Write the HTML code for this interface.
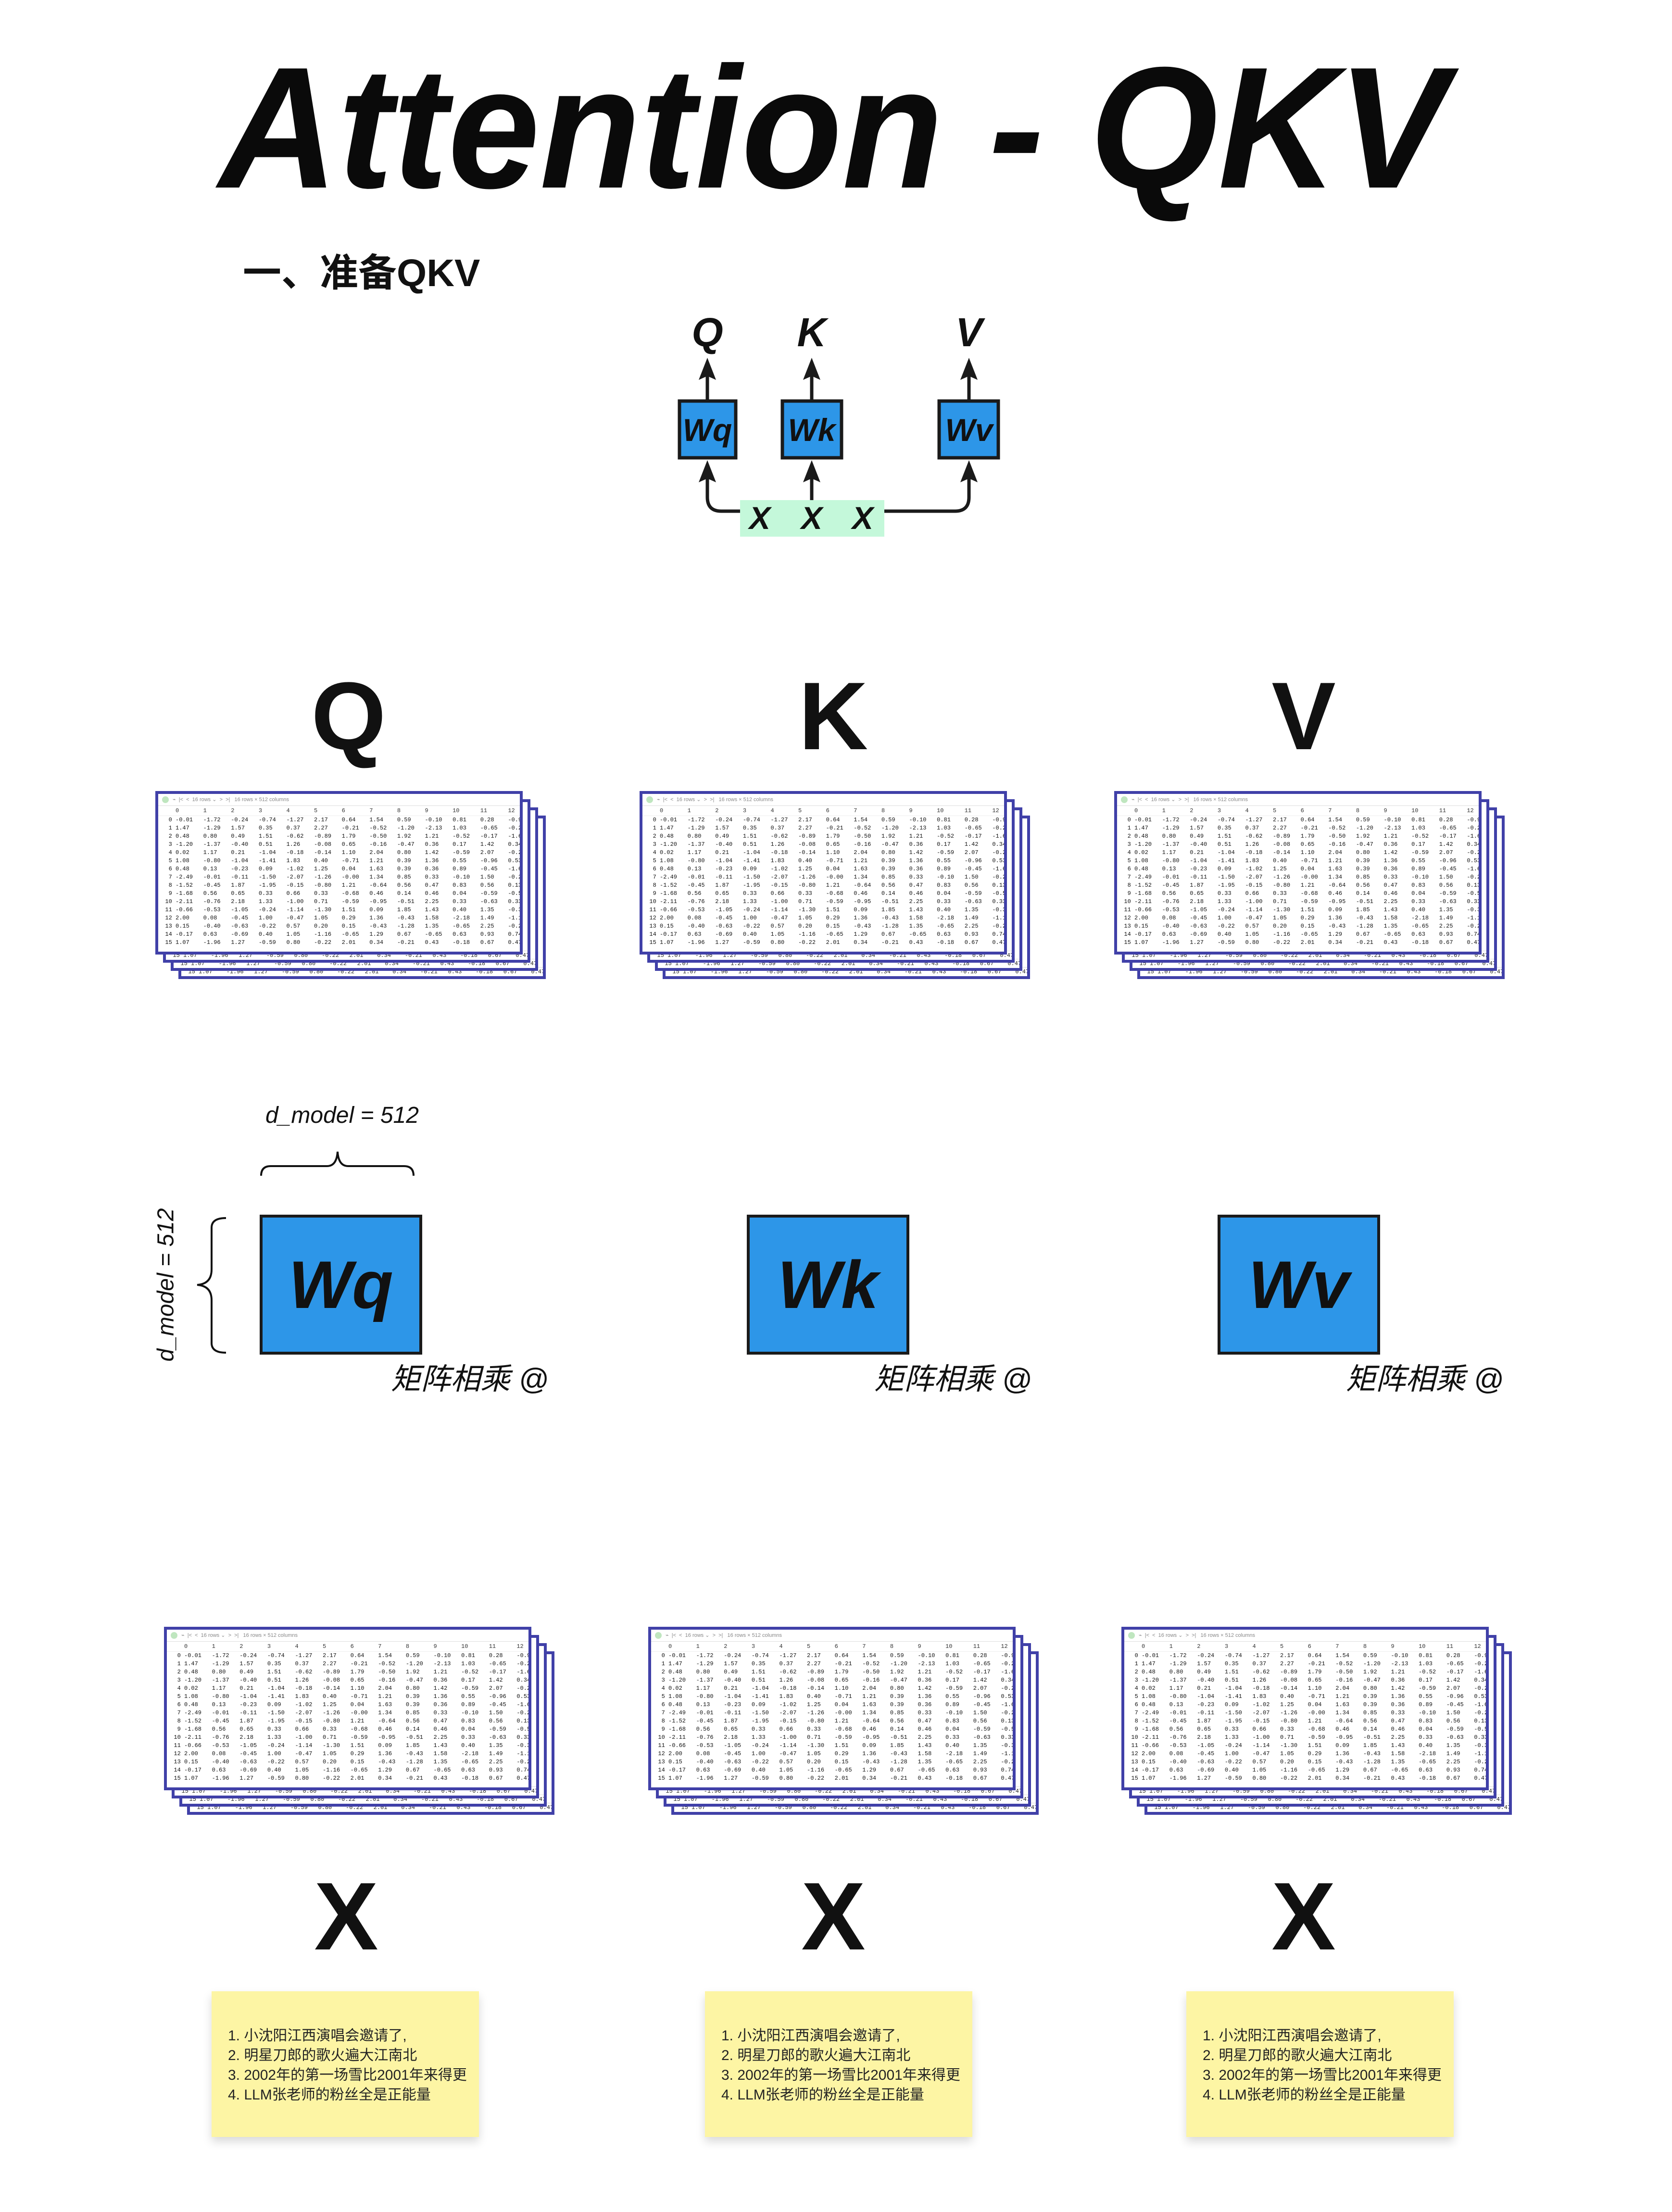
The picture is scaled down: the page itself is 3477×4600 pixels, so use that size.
<!DOCTYPE html>
<html><head><meta charset="utf-8">
<style>
body{margin:0;background:#fff;}
#pg{position:relative;width:3477px;height:4600px;overflow:hidden;background:#fff;font-family:"Liberation Sans","Noto Sans CJK SC",sans-serif;color:#111;}
.a{position:absolute;}
.lbl{position:absolute;font-weight:bold;font-size:200px;line-height:1;transform:translate(-50%,-50%);}
.stk{position:absolute;width:820px;height:400px;}
.ly{position:absolute;width:752px;height:328px;border:6px solid #4040a8;background:#fff;overflow:hidden;}
.ly .last{position:absolute;left:0;right:0;bottom:0;height:18px;font:12px/18px "Liberation Mono",monospace;white-space:pre;color:#222;border-top:1px solid #ddd;}
.tb{height:24px;border-bottom:1px solid #ddd;font:11px/24px "Liberation Sans",sans-serif;color:#888;white-space:pre;padding-left:8px;}
.tb i{display:inline-block;width:14px;height:14px;border-radius:50%;background:#bfe6bf;vertical-align:middle;margin-right:8px;}
.rw{font:12px/17px "Liberation Mono",monospace;white-space:pre;color:#111;height:17px;}
.hd{font:12px/20px "Liberation Mono",monospace;white-space:pre;color:#333;height:20px;border-bottom:1px solid #eee;}
.big{position:absolute;width:326px;height:279px;background:#2d96e8;border:6px solid #1a1a1a;font-weight:bold;font-style:italic;font-size:140px;line-height:279px;text-align:center;color:#111;}
.mm{position:absolute;font-style:italic;font-size:62px;line-height:1;}
.note{position:absolute;width:556px;height:303px;background:#fdf5a4;box-shadow:0 10px 18px rgba(0,0,0,0.15);font-family:"Liberation Sans","Noto Sans CJK SC",sans-serif;font-size:30px;line-height:41px;color:#222;box-sizing:border-box;padding:72px 0 0 34px;white-space:nowrap;}
</style></head><body><div id="pg">

<svg class="a" style="left:0;top:0" width="3477" height="620">
<text x="455" y="390" font-family="Liberation Sans" font-weight="bold" font-style="italic" font-size="360" textLength="2555" lengthAdjust="spacingAndGlyphs" fill="#0a0a0a">Attention - QKV</text>
<text x="505" y="595" font-family="Liberation Sans, Noto Sans CJK SC, sans-serif" font-weight="bold" font-size="80" fill="#111">一、准备QKV</text>
</svg>

<svg class="a" style="left:0;top:620" width="3477" height="520">
<g font-family="Liberation Sans" font-weight="bold" font-style="italic" fill="#111" text-anchor="middle">
<text x="1471" y="100" font-size="84">Q</text>
<text x="1688" y="100" font-size="84">K</text>
<text x="2015" y="100" font-size="84">V</text>
</g>
<g stroke="#1a1a1a" stroke-width="7" fill="none">
<line x1="1471" y1="211" x2="1471" y2="145"/>
<line x1="1688" y1="211" x2="1688" y2="145"/>
<line x1="2015" y1="211" x2="2015" y2="145"/>
<path d="M1539 443 H1500 Q1471 443 1471 414 V360"/>
<line x1="1688" y1="420" x2="1688" y2="360"/>
<path d="M1839 443 H1986 Q2015 443 2015 414 V360"/>
</g>
<g fill="#1a1a1a">
<path d="M1471 124 L1489 170 L1471 162 L1453 170Z"/>
<path d="M1688 124 L1706 170 L1688 162 L1670 170Z"/>
<path d="M2015 124 L2033 170 L2015 162 L1997 170Z"/>
<path d="M1471 337 L1489 383 L1471 375 L1453 383Z"/>
<path d="M1688 337 L1706 383 L1688 375 L1670 383Z"/>
<path d="M2015 337 L2033 383 L2015 375 L1997 383Z"/>
</g>
<g fill="#2d96e8" stroke="#1a1a1a" stroke-width="7">
<rect x="1413" y="214" width="117" height="118"/>
<rect x="1627" y="214" width="123" height="118"/>
<rect x="1953" y="214" width="123" height="118"/>
</g>
<rect x="1539" y="420" width="300" height="76" fill="#c4f8da"/>
<g font-family="Liberation Sans" font-weight="bold" font-style="italic" fill="#111" text-anchor="middle" font-size="66">
<text x="1471" y="297">Wq</text><text x="1688" y="297">Wk</text><text x="2015" y="297">Wv</text>
<text x="1580" y="480">X</text><text x="1688" y="480">X</text><text x="1794" y="480">X</text>
</g>
</svg>

<div class="lbl" style="left:725px;top:1490px">Q</div>
<div class="lbl" style="left:1733px;top:1490px">K</div>
<div class="lbl" style="left:2711px;top:1490px">V</div>

<div class="stk" style="left:323px;top:1645px">
<div class="ly" style="left:48px;top:51px"><div class="last">  15 1.07    -1.96   1.27    -0.59   0.80    -0.22   2.01    0.34    -0.21   0.43    -0.18   0.67    0.47</div></div>
<div class="ly" style="left:32px;top:34px"><div class="last">  15 1.07    -1.96   1.27    -0.59   0.80    -0.22   2.01    0.34    -0.21   0.43    -0.18   0.67    0.47</div></div>
<div class="ly" style="left:16px;top:17px"><div class="last">  15 1.07    -1.96   1.27    -0.59   0.80    -0.22   2.01    0.34    -0.21   0.43    -0.18   0.67    0.47</div></div>
<div class="ly" style="left:0;top:0">
<div class="tb"><i></i>⌁  |&lt;  &lt;  16 rows ⌄  &gt;  &gt;|   16 rows × 512 columns</div>
<div class="hd">     0       1       2       3       4       5       6       7       8       9       10      11      12</div>
<div class="rw">   0 -0.01   -1.72   -0.24   -0.74   -1.27   2.17    0.64    1.54    0.59    -0.10   0.81    0.28    -0.94</div>
<div class="rw">   1 1.47    -1.29   1.57    0.35    0.37    2.27    -0.21   -0.52   -1.20   -2.13   1.03    -0.65   -0.20</div>
<div class="rw">   2 0.48    0.80    0.49    1.51    -0.62   -0.89   1.79    -0.50   1.92    1.21    -0.52   -0.17   -1.62</div>
<div class="rw">   3 -1.20   -1.37   -0.40   0.51    1.26    -0.08   0.65    -0.16   -0.47   0.36    0.17    1.42    0.34</div>
<div class="rw">   4 0.02    1.17    0.21    -1.04   -0.18   -0.14   1.10    2.04    0.80    1.42    -0.59   2.07    -0.20</div>
<div class="rw">   5 1.08    -0.80   -1.04   -1.41   1.83    0.40    -0.71   1.21    0.39    1.36    0.55    -0.96   0.53</div>
<div class="rw">   6 0.48    0.13    -0.23   0.09    -1.02   1.25    0.04    1.63    0.39    0.36    0.89    -0.45   -1.65</div>
<div class="rw">   7 -2.49   -0.01   -0.11   -1.50   -2.07   -1.26   -0.00   1.34    0.85    0.33    -0.10   1.50    -0.29</div>
<div class="rw">   8 -1.52   -0.45   1.87    -1.95   -0.15   -0.80   1.21    -0.64   0.56    0.47    0.83    0.56    0.13</div>
<div class="rw">   9 -1.68   0.56    0.65    0.33    0.66    0.33    -0.68   0.46    0.14    0.46    0.04    -0.59   -0.56</div>
<div class="rw">  10 -2.11   -0.76   2.18    1.33    -1.00   0.71    -0.59   -0.95   -0.51   2.25    0.33    -0.63   0.33</div>
<div class="rw">  11 -0.66   -0.53   -1.05   -0.24   -1.14   -1.30   1.51    0.09    1.85    1.43    0.40    1.35    -0.36</div>
<div class="rw">  12 2.00    0.08    -0.45   1.00    -0.47   1.05    0.29    1.36    -0.43   1.58    -2.18   1.49    -1.11</div>
<div class="rw">  13 0.15    -0.40   -0.63   -0.22   0.57    0.20    0.15    -0.43   -1.28   1.35    -0.65   2.25    -0.24</div>
<div class="rw">  14 -0.17   0.63    -0.69   0.40    1.05    -1.16   -0.65   1.29    0.67    -0.65   0.63    0.93    0.74</div>
<div class="rw">  15 1.07    -1.96   1.27    -0.59   0.80    -0.22   2.01    0.34    -0.21   0.43    -0.18   0.67    0.47</div>
</div></div>

<div class="stk" style="left:1330px;top:1645px">
<div class="ly" style="left:48px;top:51px"><div class="last">  15 1.07    -1.96   1.27    -0.59   0.80    -0.22   2.01    0.34    -0.21   0.43    -0.18   0.67    0.47</div></div>
<div class="ly" style="left:32px;top:34px"><div class="last">  15 1.07    -1.96   1.27    -0.59   0.80    -0.22   2.01    0.34    -0.21   0.43    -0.18   0.67    0.47</div></div>
<div class="ly" style="left:16px;top:17px"><div class="last">  15 1.07    -1.96   1.27    -0.59   0.80    -0.22   2.01    0.34    -0.21   0.43    -0.18   0.67    0.47</div></div>
<div class="ly" style="left:0;top:0">
<div class="tb"><i></i>⌁  |&lt;  &lt;  16 rows ⌄  &gt;  &gt;|   16 rows × 512 columns</div>
<div class="hd">     0       1       2       3       4       5       6       7       8       9       10      11      12</div>
<div class="rw">   0 -0.01   -1.72   -0.24   -0.74   -1.27   2.17    0.64    1.54    0.59    -0.10   0.81    0.28    -0.94</div>
<div class="rw">   1 1.47    -1.29   1.57    0.35    0.37    2.27    -0.21   -0.52   -1.20   -2.13   1.03    -0.65   -0.20</div>
<div class="rw">   2 0.48    0.80    0.49    1.51    -0.62   -0.89   1.79    -0.50   1.92    1.21    -0.52   -0.17   -1.62</div>
<div class="rw">   3 -1.20   -1.37   -0.40   0.51    1.26    -0.08   0.65    -0.16   -0.47   0.36    0.17    1.42    0.34</div>
<div class="rw">   4 0.02    1.17    0.21    -1.04   -0.18   -0.14   1.10    2.04    0.80    1.42    -0.59   2.07    -0.20</div>
<div class="rw">   5 1.08    -0.80   -1.04   -1.41   1.83    0.40    -0.71   1.21    0.39    1.36    0.55    -0.96   0.53</div>
<div class="rw">   6 0.48    0.13    -0.23   0.09    -1.02   1.25    0.04    1.63    0.39    0.36    0.89    -0.45   -1.65</div>
<div class="rw">   7 -2.49   -0.01   -0.11   -1.50   -2.07   -1.26   -0.00   1.34    0.85    0.33    -0.10   1.50    -0.29</div>
<div class="rw">   8 -1.52   -0.45   1.87    -1.95   -0.15   -0.80   1.21    -0.64   0.56    0.47    0.83    0.56    0.13</div>
<div class="rw">   9 -1.68   0.56    0.65    0.33    0.66    0.33    -0.68   0.46    0.14    0.46    0.04    -0.59   -0.56</div>
<div class="rw">  10 -2.11   -0.76   2.18    1.33    -1.00   0.71    -0.59   -0.95   -0.51   2.25    0.33    -0.63   0.33</div>
<div class="rw">  11 -0.66   -0.53   -1.05   -0.24   -1.14   -1.30   1.51    0.09    1.85    1.43    0.40    1.35    -0.36</div>
<div class="rw">  12 2.00    0.08    -0.45   1.00    -0.47   1.05    0.29    1.36    -0.43   1.58    -2.18   1.49    -1.11</div>
<div class="rw">  13 0.15    -0.40   -0.63   -0.22   0.57    0.20    0.15    -0.43   -1.28   1.35    -0.65   2.25    -0.24</div>
<div class="rw">  14 -0.17   0.63    -0.69   0.40    1.05    -1.16   -0.65   1.29    0.67    -0.65   0.63    0.93    0.74</div>
<div class="rw">  15 1.07    -1.96   1.27    -0.59   0.80    -0.22   2.01    0.34    -0.21   0.43    -0.18   0.67    0.47</div>
</div></div>

<div class="stk" style="left:2317px;top:1645px">
<div class="ly" style="left:48px;top:51px"><div class="last">  15 1.07    -1.96   1.27    -0.59   0.80    -0.22   2.01    0.34    -0.21   0.43    -0.18   0.67    0.47</div></div>
<div class="ly" style="left:32px;top:34px"><div class="last">  15 1.07    -1.96   1.27    -0.59   0.80    -0.22   2.01    0.34    -0.21   0.43    -0.18   0.67    0.47</div></div>
<div class="ly" style="left:16px;top:17px"><div class="last">  15 1.07    -1.96   1.27    -0.59   0.80    -0.22   2.01    0.34    -0.21   0.43    -0.18   0.67    0.47</div></div>
<div class="ly" style="left:0;top:0">
<div class="tb"><i></i>⌁  |&lt;  &lt;  16 rows ⌄  &gt;  &gt;|   16 rows × 512 columns</div>
<div class="hd">     0       1       2       3       4       5       6       7       8       9       10      11      12</div>
<div class="rw">   0 -0.01   -1.72   -0.24   -0.74   -1.27   2.17    0.64    1.54    0.59    -0.10   0.81    0.28    -0.94</div>
<div class="rw">   1 1.47    -1.29   1.57    0.35    0.37    2.27    -0.21   -0.52   -1.20   -2.13   1.03    -0.65   -0.20</div>
<div class="rw">   2 0.48    0.80    0.49    1.51    -0.62   -0.89   1.79    -0.50   1.92    1.21    -0.52   -0.17   -1.62</div>
<div class="rw">   3 -1.20   -1.37   -0.40   0.51    1.26    -0.08   0.65    -0.16   -0.47   0.36    0.17    1.42    0.34</div>
<div class="rw">   4 0.02    1.17    0.21    -1.04   -0.18   -0.14   1.10    2.04    0.80    1.42    -0.59   2.07    -0.20</div>
<div class="rw">   5 1.08    -0.80   -1.04   -1.41   1.83    0.40    -0.71   1.21    0.39    1.36    0.55    -0.96   0.53</div>
<div class="rw">   6 0.48    0.13    -0.23   0.09    -1.02   1.25    0.04    1.63    0.39    0.36    0.89    -0.45   -1.65</div>
<div class="rw">   7 -2.49   -0.01   -0.11   -1.50   -2.07   -1.26   -0.00   1.34    0.85    0.33    -0.10   1.50    -0.29</div>
<div class="rw">   8 -1.52   -0.45   1.87    -1.95   -0.15   -0.80   1.21    -0.64   0.56    0.47    0.83    0.56    0.13</div>
<div class="rw">   9 -1.68   0.56    0.65    0.33    0.66    0.33    -0.68   0.46    0.14    0.46    0.04    -0.59   -0.56</div>
<div class="rw">  10 -2.11   -0.76   2.18    1.33    -1.00   0.71    -0.59   -0.95   -0.51   2.25    0.33    -0.63   0.33</div>
<div class="rw">  11 -0.66   -0.53   -1.05   -0.24   -1.14   -1.30   1.51    0.09    1.85    1.43    0.40    1.35    -0.36</div>
<div class="rw">  12 2.00    0.08    -0.45   1.00    -0.47   1.05    0.29    1.36    -0.43   1.58    -2.18   1.49    -1.11</div>
<div class="rw">  13 0.15    -0.40   -0.63   -0.22   0.57    0.20    0.15    -0.43   -1.28   1.35    -0.65   2.25    -0.24</div>
<div class="rw">  14 -0.17   0.63    -0.69   0.40    1.05    -1.16   -0.65   1.29    0.67    -0.65   0.63    0.93    0.74</div>
<div class="rw">  15 1.07    -1.96   1.27    -0.59   0.80    -0.22   2.01    0.34    -0.21   0.43    -0.18   0.67    0.47</div>
</div></div>

<div class="a" style="left:552px;top:2292px;font-style:italic;font-size:48px;">d_model = 512</div>
<svg class="a" style="left:0;top:2380" width="1000" height="480">
<path d="M543 65 Q543 45 563 45 H680 Q700 45 702 15 Q704 45 724 45 H840 Q860 45 860 65" fill="none" stroke="#111" stroke-width="4"/>
<path d="M470 153 Q440 153 440 173 V260 Q440 290 410 292 Q440 294 440 324 V413 Q440 433 470 433" fill="none" stroke="#111" stroke-width="4"/>
</svg>
<div class="a" style="left:345px;top:2672px;font-style:italic;font-size:48px;white-space:nowrap;transform:translate(-50%,-50%) rotate(-90deg);">d_model = 512</div>

<div class="big" style="left:540px;top:2526px">Wq</div>
<div class="big" style="left:1553px;top:2526px">Wk</div>
<div class="big" style="left:2532px;top:2526px">Wv</div>
<div class="mm" style="left:813px;top:2838px">矩阵相乘 @</div>
<div class="mm" style="left:1818px;top:2838px">矩阵相乘 @</div>
<div class="mm" style="left:2799px;top:2838px">矩阵相乘 @</div>

<div class="stk" style="left:341px;top:3383px">
<div class="ly" style="left:48px;top:51px"><div class="last">  15 1.07    -1.96   1.27    -0.59   0.80    -0.22   2.01    0.34    -0.21   0.43    -0.18   0.67    0.47</div></div>
<div class="ly" style="left:32px;top:34px"><div class="last">  15 1.07    -1.96   1.27    -0.59   0.80    -0.22   2.01    0.34    -0.21   0.43    -0.18   0.67    0.47</div></div>
<div class="ly" style="left:16px;top:17px"><div class="last">  15 1.07    -1.96   1.27    -0.59   0.80    -0.22   2.01    0.34    -0.21   0.43    -0.18   0.67    0.47</div></div>
<div class="ly" style="left:0;top:0">
<div class="tb"><i></i>⌁  |&lt;  &lt;  16 rows ⌄  &gt;  &gt;|   16 rows × 512 columns</div>
<div class="hd">     0       1       2       3       4       5       6       7       8       9       10      11      12</div>
<div class="rw">   0 -0.01   -1.72   -0.24   -0.74   -1.27   2.17    0.64    1.54    0.59    -0.10   0.81    0.28    -0.94</div>
<div class="rw">   1 1.47    -1.29   1.57    0.35    0.37    2.27    -0.21   -0.52   -1.20   -2.13   1.03    -0.65   -0.20</div>
<div class="rw">   2 0.48    0.80    0.49    1.51    -0.62   -0.89   1.79    -0.50   1.92    1.21    -0.52   -0.17   -1.62</div>
<div class="rw">   3 -1.20   -1.37   -0.40   0.51    1.26    -0.08   0.65    -0.16   -0.47   0.36    0.17    1.42    0.34</div>
<div class="rw">   4 0.02    1.17    0.21    -1.04   -0.18   -0.14   1.10    2.04    0.80    1.42    -0.59   2.07    -0.20</div>
<div class="rw">   5 1.08    -0.80   -1.04   -1.41   1.83    0.40    -0.71   1.21    0.39    1.36    0.55    -0.96   0.53</div>
<div class="rw">   6 0.48    0.13    -0.23   0.09    -1.02   1.25    0.04    1.63    0.39    0.36    0.89    -0.45   -1.65</div>
<div class="rw">   7 -2.49   -0.01   -0.11   -1.50   -2.07   -1.26   -0.00   1.34    0.85    0.33    -0.10   1.50    -0.29</div>
<div class="rw">   8 -1.52   -0.45   1.87    -1.95   -0.15   -0.80   1.21    -0.64   0.56    0.47    0.83    0.56    0.13</div>
<div class="rw">   9 -1.68   0.56    0.65    0.33    0.66    0.33    -0.68   0.46    0.14    0.46    0.04    -0.59   -0.56</div>
<div class="rw">  10 -2.11   -0.76   2.18    1.33    -1.00   0.71    -0.59   -0.95   -0.51   2.25    0.33    -0.63   0.33</div>
<div class="rw">  11 -0.66   -0.53   -1.05   -0.24   -1.14   -1.30   1.51    0.09    1.85    1.43    0.40    1.35    -0.36</div>
<div class="rw">  12 2.00    0.08    -0.45   1.00    -0.47   1.05    0.29    1.36    -0.43   1.58    -2.18   1.49    -1.11</div>
<div class="rw">  13 0.15    -0.40   -0.63   -0.22   0.57    0.20    0.15    -0.43   -1.28   1.35    -0.65   2.25    -0.24</div>
<div class="rw">  14 -0.17   0.63    -0.69   0.40    1.05    -1.16   -0.65   1.29    0.67    -0.65   0.63    0.93    0.74</div>
<div class="rw">  15 1.07    -1.96   1.27    -0.59   0.80    -0.22   2.01    0.34    -0.21   0.43    -0.18   0.67    0.47</div>
</div></div>

<div class="stk" style="left:1348px;top:3383px">
<div class="ly" style="left:48px;top:51px"><div class="last">  15 1.07    -1.96   1.27    -0.59   0.80    -0.22   2.01    0.34    -0.21   0.43    -0.18   0.67    0.47</div></div>
<div class="ly" style="left:32px;top:34px"><div class="last">  15 1.07    -1.96   1.27    -0.59   0.80    -0.22   2.01    0.34    -0.21   0.43    -0.18   0.67    0.47</div></div>
<div class="ly" style="left:16px;top:17px"><div class="last">  15 1.07    -1.96   1.27    -0.59   0.80    -0.22   2.01    0.34    -0.21   0.43    -0.18   0.67    0.47</div></div>
<div class="ly" style="left:0;top:0">
<div class="tb"><i></i>⌁  |&lt;  &lt;  16 rows ⌄  &gt;  &gt;|   16 rows × 512 columns</div>
<div class="hd">     0       1       2       3       4       5       6       7       8       9       10      11      12</div>
<div class="rw">   0 -0.01   -1.72   -0.24   -0.74   -1.27   2.17    0.64    1.54    0.59    -0.10   0.81    0.28    -0.94</div>
<div class="rw">   1 1.47    -1.29   1.57    0.35    0.37    2.27    -0.21   -0.52   -1.20   -2.13   1.03    -0.65   -0.20</div>
<div class="rw">   2 0.48    0.80    0.49    1.51    -0.62   -0.89   1.79    -0.50   1.92    1.21    -0.52   -0.17   -1.62</div>
<div class="rw">   3 -1.20   -1.37   -0.40   0.51    1.26    -0.08   0.65    -0.16   -0.47   0.36    0.17    1.42    0.34</div>
<div class="rw">   4 0.02    1.17    0.21    -1.04   -0.18   -0.14   1.10    2.04    0.80    1.42    -0.59   2.07    -0.20</div>
<div class="rw">   5 1.08    -0.80   -1.04   -1.41   1.83    0.40    -0.71   1.21    0.39    1.36    0.55    -0.96   0.53</div>
<div class="rw">   6 0.48    0.13    -0.23   0.09    -1.02   1.25    0.04    1.63    0.39    0.36    0.89    -0.45   -1.65</div>
<div class="rw">   7 -2.49   -0.01   -0.11   -1.50   -2.07   -1.26   -0.00   1.34    0.85    0.33    -0.10   1.50    -0.29</div>
<div class="rw">   8 -1.52   -0.45   1.87    -1.95   -0.15   -0.80   1.21    -0.64   0.56    0.47    0.83    0.56    0.13</div>
<div class="rw">   9 -1.68   0.56    0.65    0.33    0.66    0.33    -0.68   0.46    0.14    0.46    0.04    -0.59   -0.56</div>
<div class="rw">  10 -2.11   -0.76   2.18    1.33    -1.00   0.71    -0.59   -0.95   -0.51   2.25    0.33    -0.63   0.33</div>
<div class="rw">  11 -0.66   -0.53   -1.05   -0.24   -1.14   -1.30   1.51    0.09    1.85    1.43    0.40    1.35    -0.36</div>
<div class="rw">  12 2.00    0.08    -0.45   1.00    -0.47   1.05    0.29    1.36    -0.43   1.58    -2.18   1.49    -1.11</div>
<div class="rw">  13 0.15    -0.40   -0.63   -0.22   0.57    0.20    0.15    -0.43   -1.28   1.35    -0.65   2.25    -0.24</div>
<div class="rw">  14 -0.17   0.63    -0.69   0.40    1.05    -1.16   -0.65   1.29    0.67    -0.65   0.63    0.93    0.74</div>
<div class="rw">  15 1.07    -1.96   1.27    -0.59   0.80    -0.22   2.01    0.34    -0.21   0.43    -0.18   0.67    0.47</div>
</div></div>

<div class="stk" style="left:2332px;top:3383px">
<div class="ly" style="left:48px;top:51px"><div class="last">  15 1.07    -1.96   1.27    -0.59   0.80    -0.22   2.01    0.34    -0.21   0.43    -0.18   0.67    0.47</div></div>
<div class="ly" style="left:32px;top:34px"><div class="last">  15 1.07    -1.96   1.27    -0.59   0.80    -0.22   2.01    0.34    -0.21   0.43    -0.18   0.67    0.47</div></div>
<div class="ly" style="left:16px;top:17px"><div class="last">  15 1.07    -1.96   1.27    -0.59   0.80    -0.22   2.01    0.34    -0.21   0.43    -0.18   0.67    0.47</div></div>
<div class="ly" style="left:0;top:0">
<div class="tb"><i></i>⌁  |&lt;  &lt;  16 rows ⌄  &gt;  &gt;|   16 rows × 512 columns</div>
<div class="hd">     0       1       2       3       4       5       6       7       8       9       10      11      12</div>
<div class="rw">   0 -0.01   -1.72   -0.24   -0.74   -1.27   2.17    0.64    1.54    0.59    -0.10   0.81    0.28    -0.94</div>
<div class="rw">   1 1.47    -1.29   1.57    0.35    0.37    2.27    -0.21   -0.52   -1.20   -2.13   1.03    -0.65   -0.20</div>
<div class="rw">   2 0.48    0.80    0.49    1.51    -0.62   -0.89   1.79    -0.50   1.92    1.21    -0.52   -0.17   -1.62</div>
<div class="rw">   3 -1.20   -1.37   -0.40   0.51    1.26    -0.08   0.65    -0.16   -0.47   0.36    0.17    1.42    0.34</div>
<div class="rw">   4 0.02    1.17    0.21    -1.04   -0.18   -0.14   1.10    2.04    0.80    1.42    -0.59   2.07    -0.20</div>
<div class="rw">   5 1.08    -0.80   -1.04   -1.41   1.83    0.40    -0.71   1.21    0.39    1.36    0.55    -0.96   0.53</div>
<div class="rw">   6 0.48    0.13    -0.23   0.09    -1.02   1.25    0.04    1.63    0.39    0.36    0.89    -0.45   -1.65</div>
<div class="rw">   7 -2.49   -0.01   -0.11   -1.50   -2.07   -1.26   -0.00   1.34    0.85    0.33    -0.10   1.50    -0.29</div>
<div class="rw">   8 -1.52   -0.45   1.87    -1.95   -0.15   -0.80   1.21    -0.64   0.56    0.47    0.83    0.56    0.13</div>
<div class="rw">   9 -1.68   0.56    0.65    0.33    0.66    0.33    -0.68   0.46    0.14    0.46    0.04    -0.59   -0.56</div>
<div class="rw">  10 -2.11   -0.76   2.18    1.33    -1.00   0.71    -0.59   -0.95   -0.51   2.25    0.33    -0.63   0.33</div>
<div class="rw">  11 -0.66   -0.53   -1.05   -0.24   -1.14   -1.30   1.51    0.09    1.85    1.43    0.40    1.35    -0.36</div>
<div class="rw">  12 2.00    0.08    -0.45   1.00    -0.47   1.05    0.29    1.36    -0.43   1.58    -2.18   1.49    -1.11</div>
<div class="rw">  13 0.15    -0.40   -0.63   -0.22   0.57    0.20    0.15    -0.43   -1.28   1.35    -0.65   2.25    -0.24</div>
<div class="rw">  14 -0.17   0.63    -0.69   0.40    1.05    -1.16   -0.65   1.29    0.67    -0.65   0.63    0.93    0.74</div>
<div class="rw">  15 1.07    -1.96   1.27    -0.59   0.80    -0.22   2.01    0.34    -0.21   0.43    -0.18   0.67    0.47</div>
</div></div>

<div class="lbl" style="left:720px;top:3986px">X</div>
<div class="lbl" style="left:1733px;top:3986px">X</div>
<div class="lbl" style="left:2711px;top:3986px">X</div>

<div class="note" style="left:440px;top:4141px">1. 小沈阳江西演唱会邀请了,<br>2. 明星刀郎的歌火遍大江南北<br>3. 2002年的第一场雪比2001年来得更<br>4. LLM张老师的粉丝全是正能量</div>
<div class="note" style="left:1466px;top:4141px">1. 小沈阳江西演唱会邀请了,<br>2. 明星刀郎的歌火遍大江南北<br>3. 2002年的第一场雪比2001年来得更<br>4. LLM张老师的粉丝全是正能量</div>
<div class="note" style="left:2467px;top:4141px">1. 小沈阳江西演唱会邀请了,<br>2. 明星刀郎的歌火遍大江南北<br>3. 2002年的第一场雪比2001年来得更<br>4. LLM张老师的粉丝全是正能量</div>

</div></body></html>
